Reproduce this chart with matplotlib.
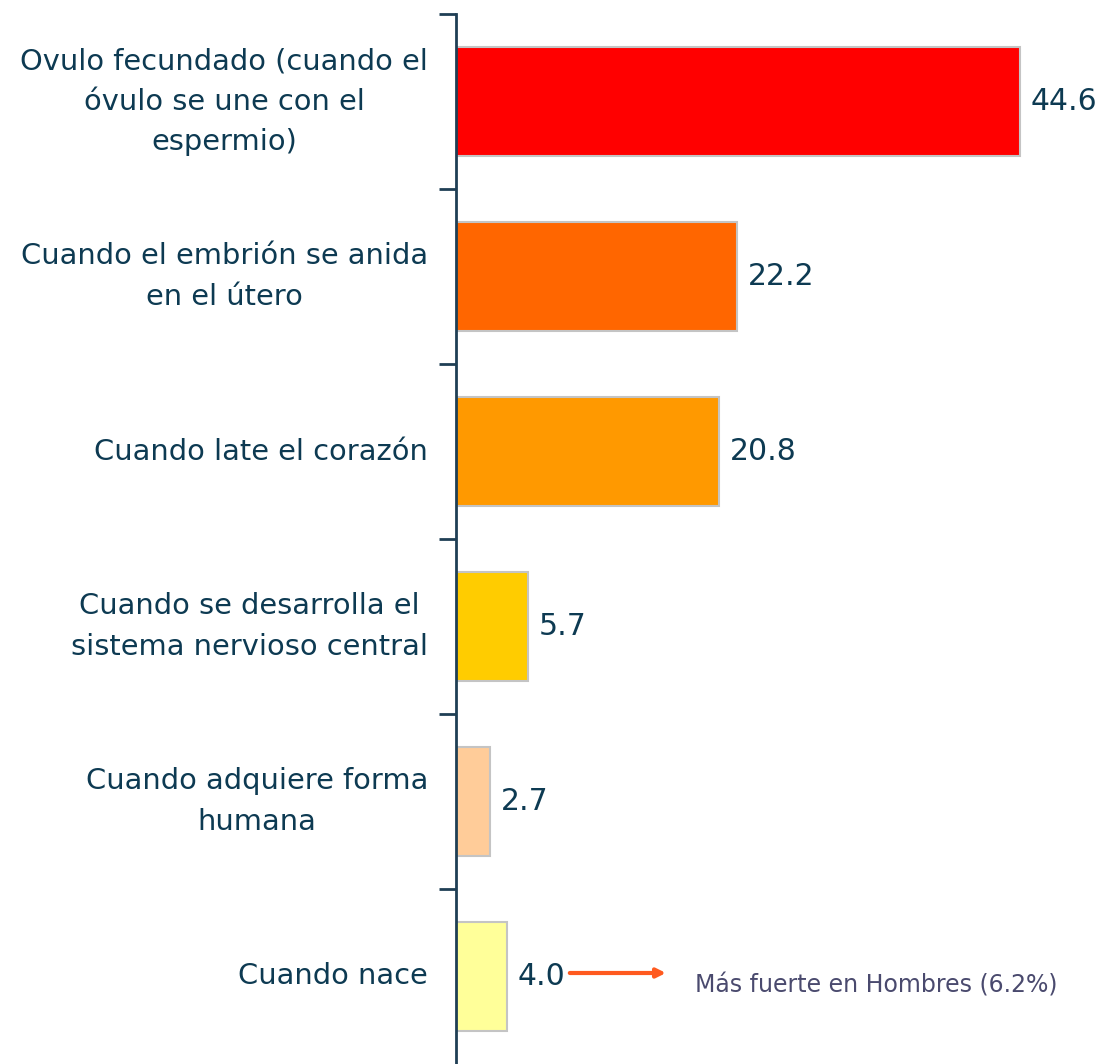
import matplotlib.pyplot as plt

# Data
categories = [
    "Ovulo fecundado (cuando el\nóvulo se une con el\nespermio)",
    "Cuando el embrión se anida\nen el útero",
    "Cuando late el corazón",
    "Cuando se desarrolla el\nsistema nervioso central",
    "Cuando adquiere forma\nhumana",
    "Cuando nace",
]
values = [44.6, 22.2, 20.8, 5.7, 2.7, 4.0]
colors = ["#ff0000", "#ff6600", "#ff9900", "#ffcc00", "#ffcc99", "#ffff99"]
note_text = "Más fuerte en Hombres (6.2%)"

text_color = "#0d3a52"
axis_color = "#1f3f55"

fig = plt.figure(figsize=(11.03, 10.64), dpi=100)
ax = fig.add_axes([456 / 1103, 0, 647 / 1103, 1 - 14 / 1064])

y = list(range(len(categories)))
ax.barh(y, values, height=0.62, color=colors, edgecolor="#c4c4c4", linewidth=1.5)

ax.set_xlim(0, 647 / 12.646)
ax.set_ylim(len(categories) - 0.5, -0.5)

# value labels
for yi, v in zip(y, values):
    ax.text(v + 0.85, yi, f"{v:.1f}", va="center", ha="left",
            fontsize=21.5, color=text_color)

# category labels (centred lines, block right-aligned to the axis)
for yi, c in zip(y, categories):
    ax.text(-2.2, yi, c, va="center", ha="right", multialignment="center",
            fontsize=20.8, color=text_color, linespacing=1.55)

# arrow + note for last bar
ax.annotate("", xy=(16.6, 4.98), xytext=(9.0, 4.98),
            arrowprops=dict(arrowstyle="-|>", color="#ff5a1f", lw=3,
                            mutation_scale=13, shrinkA=0, shrinkB=0))
ax.text(18.9, 5.05, note_text, va="center", ha="left", fontsize=17,
        color="#4a4a6e")

# axes styling
ax.set_yticks([i - 0.5 for i in range(len(categories))])
ax.set_yticklabels([])
ax.tick_params(axis="y", direction="out", length=12, width=2, color=axis_color)
ax.set_xticks([])
for s in ["top", "right", "bottom"]:
    ax.spines[s].set_visible(False)
ax.spines["left"].set_color(axis_color)
ax.spines["left"].set_linewidth(2)

fig.savefig("out.png", dpi=100)
